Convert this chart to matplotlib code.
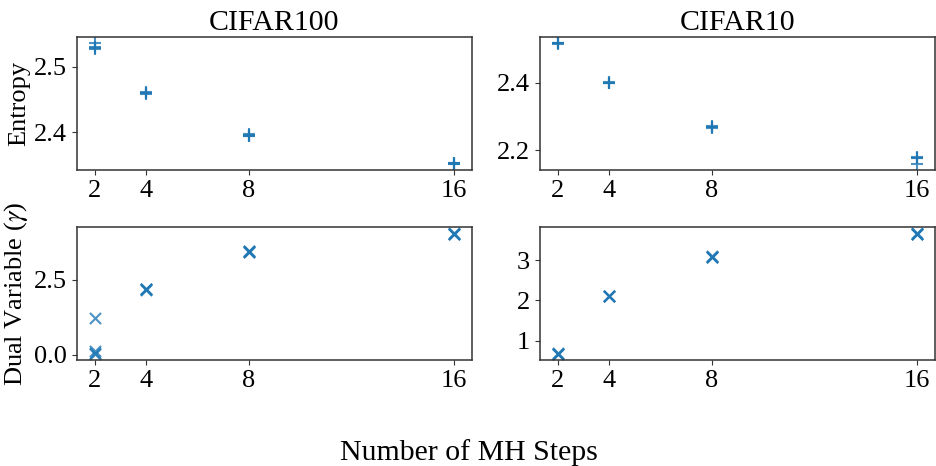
import matplotlib
matplotlib.use("Agg")
import matplotlib.pyplot as plt

plt.rcParams["font.family"] = ["Liberation Serif", "DejaVu Serif"]
plt.rcParams["mathtext.fontset"] = "stix"
plt.rcParams["axes.edgecolor"] = "#333333"
plt.rcParams["axes.linewidth"] = 1.1

# MH step counts used for the x-axis
mh_ticks = [2, 4, 8, 16]

# One value per run at each MH step count
steps = [2, 2, 2, 2, 4, 4, 4, 4, 8, 8, 8, 8, 16, 16, 16, 16]

entropy_c100 = [2.536, 2.529, 2.527, 2.528,
                2.461, 2.460, 2.459, 2.460,
                2.397, 2.395, 2.396, 2.394,
                2.354, 2.352, 2.353, 2.352]
entropy_c10 = [2.518, 2.516, 2.517, 2.518,
               2.401, 2.399, 2.400, 2.400,
               2.273, 2.266, 2.268, 2.270,
               2.180, 2.176, 2.160, 2.178]
dual_c100 = [1.23, 0.14, 0.06, 0.02,
             2.20, 2.17, 2.19, 2.18,
             3.47, 3.43, 3.45, 3.44,
             4.06, 4.02, 4.04, 4.03]
dual_c10 = [0.67, 0.66, 0.68, 0.67,
            2.11, 2.10, 2.12, 2.11,
            3.09, 3.08, 3.10, 3.09,
            3.67, 3.66, 3.68, 3.67]

titles = ["CIFAR100", "CIFAR10"]

fig, axes = plt.subplots(2, 2, figsize=(9.37, 4.66), dpi=100)
fig.subplots_adjust(left=0.082, right=0.998, top=0.921, bottom=0.227,
                    wspace=0.172, hspace=0.429)

color = "#1f77b4"
kw = dict(color=color, alpha=0.8, s=64, linewidths=1.5)

axes[0, 0].scatter(steps, entropy_c100, marker="+", **kw)
axes[0, 1].scatter(steps, entropy_c10, marker="+", **kw)
axes[1, 0].scatter(steps, dual_c100, marker="x", **kw)
axes[1, 1].scatter(steps, dual_c10, marker="x", **kw)

for j, t in enumerate(titles):
    axes[0, j].set_title(t, fontsize=21.5, pad=5)

for ax in axes.flat:
    ax.set_xticks(mh_ticks)
    ax.set_xticklabels([str(v) for v in mh_ticks])
    ax.tick_params(labelsize=19, color="#333333")

axes[0, 0].set_yticks([2.4, 2.5])
axes[0, 1].set_yticks([2.2, 2.4])
axes[1, 0].set_yticks([0.0, 2.5])
axes[1, 1].set_yticks([1, 2, 3])

axes[0, 0].set_ylabel("Entropy", fontsize=19, labelpad=3)
axes[1, 0].set_ylabel(r"Dual Variable ($\gamma$)", fontsize=19, labelpad=3)
fig.supxlabel("Number of MH Steps", fontsize=21.5, y=0.0)

fig.savefig("out.png", dpi=100)
